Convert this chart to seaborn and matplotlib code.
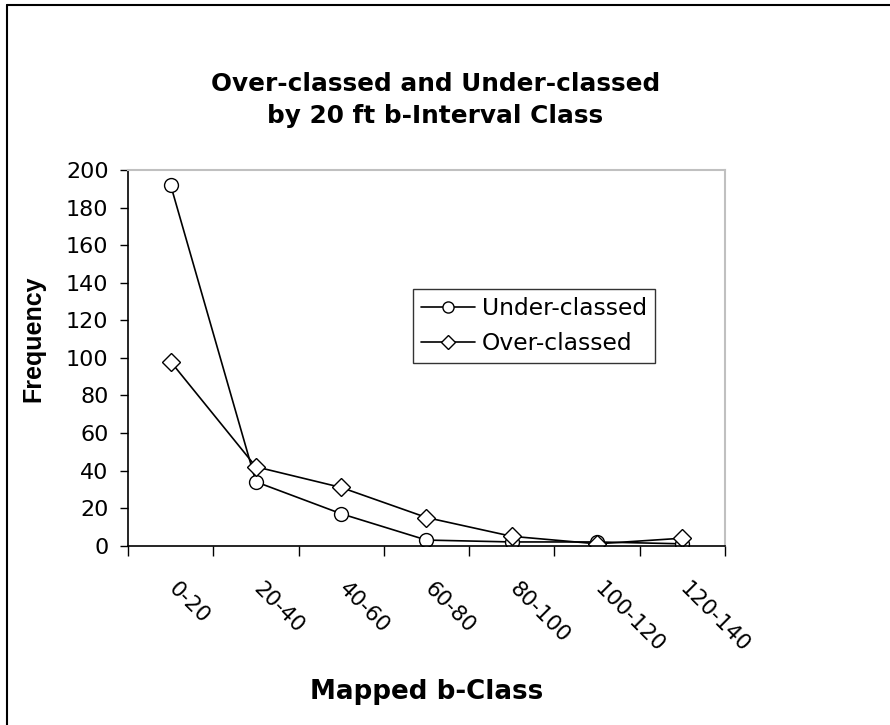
import matplotlib
matplotlib.use('Agg')
import matplotlib.pyplot as plt
import matplotlib.transforms as mtransforms
import numpy as np
import pandas as pd
import seaborn as sns
from matplotlib.lines import Line2D

sns.set_theme(style='white')
# reference text is wide (stretched Arial); DejaVu Sans gives a similar footprint
plt.rcParams['font.family'] = ['DejaVu Sans']
plt.rcParams['text.color'] = 'black'
plt.rcParams['xtick.color'] = 'black'
plt.rcParams['ytick.color'] = 'black'
plt.rcParams['axes.labelcolor'] = 'black'

classes = ['0-20', '20-40', '40-60', '60-80', '80-100', '100-120', '120-140']
under_classed = [192, 34, 17, 3, 2, 2, 1]
over_classed = [98, 42, 31, 15, 5, 1, 4]

df = pd.DataFrame({
    'pos': list(range(len(classes))) * 2,
    'Frequency': under_classed + over_classed,
    'series': ['Under-classed'] * len(classes) + ['Over-classed'] * len(classes),
})

fig = plt.figure(figsize=(8.9, 7.25), dpi=100)
ax = fig.add_axes([0.1438, 0.2473, 0.6708, 0.5183])

sns.lineplot(data=df, x='pos', y='Frequency', hue='series', style='series',
             markers={'Under-classed': 'o', 'Over-classed': 'D'}, dashes=False,
             palette={'Under-classed': 'black', 'Over-classed': 'black'},
             markersize=10, markerfacecolor='white', markeredgecolor='black',
             markeredgewidth=1.0, linewidth=1.2, legend=False, ax=ax)
for ln, ms in zip(ax.lines, [10, 9]):
    ln.set_markersize(ms)

ax.set_xlim(-0.5, len(classes) - 0.5)
ax.set_ylim(0, 200)
ax.set_yticks(np.arange(0, 201, 20))
ax.tick_params(axis='y', labelsize=16, length=6, width=1, direction='out',
               left=True, color='black', labelcolor='black', pad=8)

ax.set_xticks(range(len(classes)))
ax.set_xticklabels(classes, rotation=-45, ha='left', va='top',
                   rotation_mode='anchor', fontsize=15.5, color='black')
ax.tick_params(axis='x', which='major', length=0, pad=24)
shift = mtransforms.ScaledTranslation(8 / 100, 0, fig.dpi_scale_trans)
for lab in ax.get_xticklabels():
    lab.set_transform(lab.get_transform() + shift)
ax.set_xticks(np.arange(-0.5, len(classes), 1), minor=True)
ax.tick_params(axis='x', which='minor', length=7, width=1, direction='out',
               bottom=True, color='black')

for side in ['left', 'bottom']:
    ax.spines[side].set_color('black')
    ax.spines[side].set_linewidth(1.2)
for side in ['top', 'right']:
    ax.spines[side].set_color('#c0c0c0')
    ax.spines[side].set_linewidth(1.5)

ax.set_xlabel('')
ax.set_ylabel('')
# vertical text is not stretched in the reference, so plain Arial metrics fit it
fig.text(0.038, 0.533, 'Frequency', rotation=90, ha='center', va='center',
         fontsize=18, fontweight='bold', family=['Liberation Sans', 'DejaVu Sans'])
fig.text(0.479, 0.045, 'Mapped b-Class', ha='center', va='center',
         fontsize=18.8, fontweight='bold')
fig.text(0.489, 0.862, 'Over-classed and Under-classed\nby 20 ft b-Interval Class',
         ha='center', va='center', fontsize=17.8, fontweight='bold', linespacing=1.4)

handles = [
    Line2D([], [], color='black', lw=1.2, marker='o', markersize=8,
           markerfacecolor='white', markeredgecolor='black'),
    Line2D([], [], color='black', lw=1.2, marker='D', markersize=7,
           markerfacecolor='white', markeredgecolor='black'),
]
leg = ax.legend(handles, ['Under-classed', 'Over-classed'],
                loc='upper left', bbox_to_anchor=(413 / 890, 1 - 289 / 725),
                bbox_transform=fig.transFigure, fontsize=16.8, frameon=True,
                fancybox=False, handlelength=2.3, handletextpad=0.3,
                borderpad=0.35, labelspacing=0.5, borderaxespad=0)
leg.get_frame().set_edgecolor('black')
leg.get_frame().set_linewidth(1.0)
for t in leg.get_texts():
    t.set_color('black')

fig.add_artist(Line2D([7 / 890, 7 / 890], [0, 1 - 5 / 725], color='black', lw=1.5,
                      transform=fig.transFigure))
fig.add_artist(Line2D([7 / 890, 1], [1 - 5 / 725, 1 - 5 / 725], color='black', lw=1.5,
                      transform=fig.transFigure))

fig.savefig('out.png', dpi=100, facecolor='white')
